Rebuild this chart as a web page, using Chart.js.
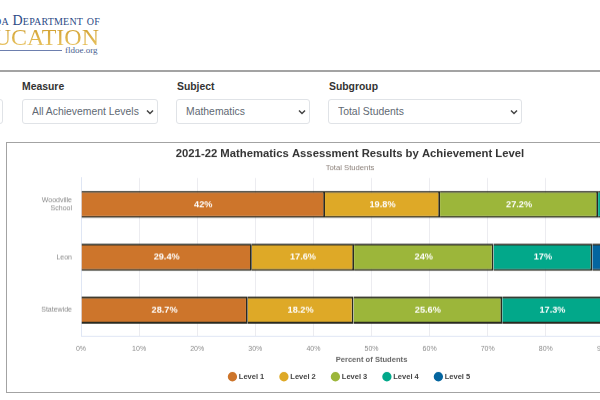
<!DOCTYPE html>
<html>
<head>
<meta charset="utf-8">
<script src="https://cdn.jsdelivr.net/npm/chart.js@4"></script>
<style>
  html, body { margin: 0; width: 600px; height: 400px; overflow: hidden; background: #fff; font-family: "Liberation Sans", Arial, sans-serif; }
  .abs { position: absolute; white-space: nowrap; }
  .logo { font-family: "Liberation Serif", serif; }
  .rule { left: 0; width: 600px; height: 2px; background: #a3a3a3; }
  .lbl { font-weight: bold; font-size: 10.4px; color: #333; top: 80px; line-height: 13px; }
  .sel {
    top: 99px; height: 25px; box-sizing: border-box; border: 1px solid #e0e3e7; border-radius: 3px; color: #5f6973;
    font: 10.4px "Liberation Sans", Arial, sans-serif; padding: 0 0 0 9px; appearance: none;
    background: #fff url("data:image/svg+xml,%3Csvg xmlns='http://www.w3.org/2000/svg' width='8' height='6'%3E%3Cpath d='M1 1.5l3 3 3-3' fill='none' stroke='%23444' stroke-width='1.5'/%3E%3C/svg%3E") no-repeat right 3px center;
  }
  #card { left: 6px; top: 142px; width: 900px; height: 251px; box-sizing: border-box; border: 1px solid #a3a3a3; }
  #wrap { left: 7px; top: 143px; width: 686px; height: 246.5px; }
</style>
</head>
<body>
<div class="abs logo" style="left:-100px;top:13px;width:200px;text-align:right;font-size:14px;color:#2b4a86;font-variant:small-caps;letter-spacing:.2px">Florida Department of</div>
<div class="abs logo" style="left:-100px;top:21px;width:199px;text-align:right;font-size:24px;line-height:32px;color:#d9a62e;background:linear-gradient(#c9941f,#f0cf72);-webkit-background-clip:text;background-clip:text;-webkit-text-fill-color:transparent">EDUCATION</div>
<div class="abs" style="left:0;top:50px;width:62px;height:1px;background:#6d7fae"></div>
<div class="abs logo" style="left:65px;top:45px;font-size:9px;color:#4a5f8f">fldoe.org</div>

<div class="abs rule" style="top:70px"></div>

<select class="abs sel" style="left:-100px;width:103px"><option>Achievement</option></select>
<div class="abs lbl" style="left:22px">Measure</div>
<select class="abs sel" style="left:22px;width:136px"><option>All Achievement Levels</option></select>
<div class="abs lbl" style="left:177px">Subject</div>
<select class="abs sel" style="left:176px;width:134px"><option>Mathematics</option></select>
<div class="abs lbl" style="left:329px">Subgroup</div>
<select class="abs sel" style="left:328px;width:194px"><option>Total Students</option></select>

<div class="abs" id="card"></div>
<div class="abs" id="wrap"><canvas id="chart"></canvas></div>

<script>
const schools = [["Woodville", "School"], "Leon", "Statewide"]
const levelNames = ["Level 1", "Level 2", "Level 3", "Level 4", "Level 5"]
const level1 = [42, 29.4, 28.7]
const level2 = [19.8, 17.6, 18.2]
const level3 = [27.2, 24, 25.6]
const level4 = [8.2, 17, 17.3]
const level5 = [2.8, 12, 10.2]
const levelColors = ["#cd752b", "#dea927", "#9cb63a", "#02a88a", "#04659f"]
const percentTicks = [0, 10, 20, 30, 40, 50, 60, 70, 80, 90, 100]
const fontFamily = "'Liberation Sans', Arial, sans-serif"

// white percent text in the middle of every segment
const segmentLabels = {
  id: "segmentLabels",
  afterDatasetsDraw (chart) {
    const ctx = chart.ctx
    ctx.save()
    ctx.font = `bold 9.2px ${fontFamily}`
    ctx.fillStyle = "#fff"
    ctx.textAlign = "center"
    ctx.textBaseline = "middle"
    chart.data.datasets.forEach((ds, i) => {
      chart.getDatasetMeta(i).data.forEach((bar, j) => {
        const mid = (bar.x + bar.base) / 2
        ctx.fillText(`${ds.data[j]}%`, mid, bar.y)
      })
    })
    ctx.restore()
  }
}

function buildDataset (name, values, color) {
  return {
    label: name,
    data: values,
    backgroundColor: color,
    borderColor: "#2a2a20",
    borderWidth: 1.8,
    barPercentage: 0.64,
    categoryPercentage: 0.8
  }
}

new Chart(document.getElementById("chart"), {
  type: "bar",
  data: {
    labels: schools,
    datasets: [
      buildDataset(levelNames[0], level1, levelColors[0]),
      buildDataset(levelNames[1], level2, levelColors[1]),
      buildDataset(levelNames[2], level3, levelColors[2]),
      buildDataset(levelNames[3], level4, levelColors[3]),
      buildDataset(levelNames[4], level5, levelColors[4])
    ]
  },
  plugins: [segmentLabels],
  options: {
    indexAxis: "y",
    animation: false,
    responsive: true,
    maintainAspectRatio: false,
    layout: { padding: { left: 31, right: 31, top: 0, bottom: 0 } },
    plugins: {
      title: {
        display: true,
        text: "2021-22 Mathematics Assessment Results by Achievement Level",
        color: "#333",
        font: { family: fontFamily, size: 11.3, weight: "bold" },
        padding: { top: 4, bottom: 3 }
      },
      subtitle: {
        display: true,
        text: "Total Students",
        color: "#8a7f78",
        font: { family: fontFamily, size: 7.7 },
        padding: { bottom: 5 }
      },
      legend: {
        position: "bottom",
        labels: {
          usePointStyle: true,
          pointStyle: "circle",
          boxWidth: 5.3,
          boxHeight: 5.3,
          padding: 17,
          color: "#444",
          font: { family: fontFamily, size: 7.5, weight: "bold" },
          generateLabels (chart) {
            const items = Chart.defaults.plugins.legend.labels.generateLabels(chart)
            items.forEach((item) => { item.strokeStyle = item.fillStyle })
            return items
          }
        }
      }
    },
    scales: {
      x: {
        stacked: true,
        min: 0,
        max: 100,
        afterBuildTicks: (axis) => { axis.ticks = percentTicks.map((v) => ({ value: v })) },
        grid: { color: "#ececf0", drawTicks: false },
        border: { color: "#dfe6f4" },
        ticks: {
          color: "#8a8a8a",
          padding: 8,
          font: { family: fontFamily, size: 7 },
          maxRotation: 0,
          callback: (v) => `${v}%`
        },
        title: {
          display: true,
          text: "Percent of Students",
          color: "#666",
          font: { family: fontFamily, size: 7.6, weight: "bold" },
          padding: { top: 0, bottom: -8.3 }
        },
        afterFit: (axis) => { axis.height = 19.25 }
      },
      y: {
        stacked: true,
        grid: { display: false },
        border: { color: "#dfe6f4" },
        ticks: {
          color: "#8a8a8a",
          padding: 1,
          font: { family: fontFamily, size: 7 }
        },
        afterFit: (axis) => { axis.width = 43 }
      }
    }
  }
})
</script>
</body>
</html>
